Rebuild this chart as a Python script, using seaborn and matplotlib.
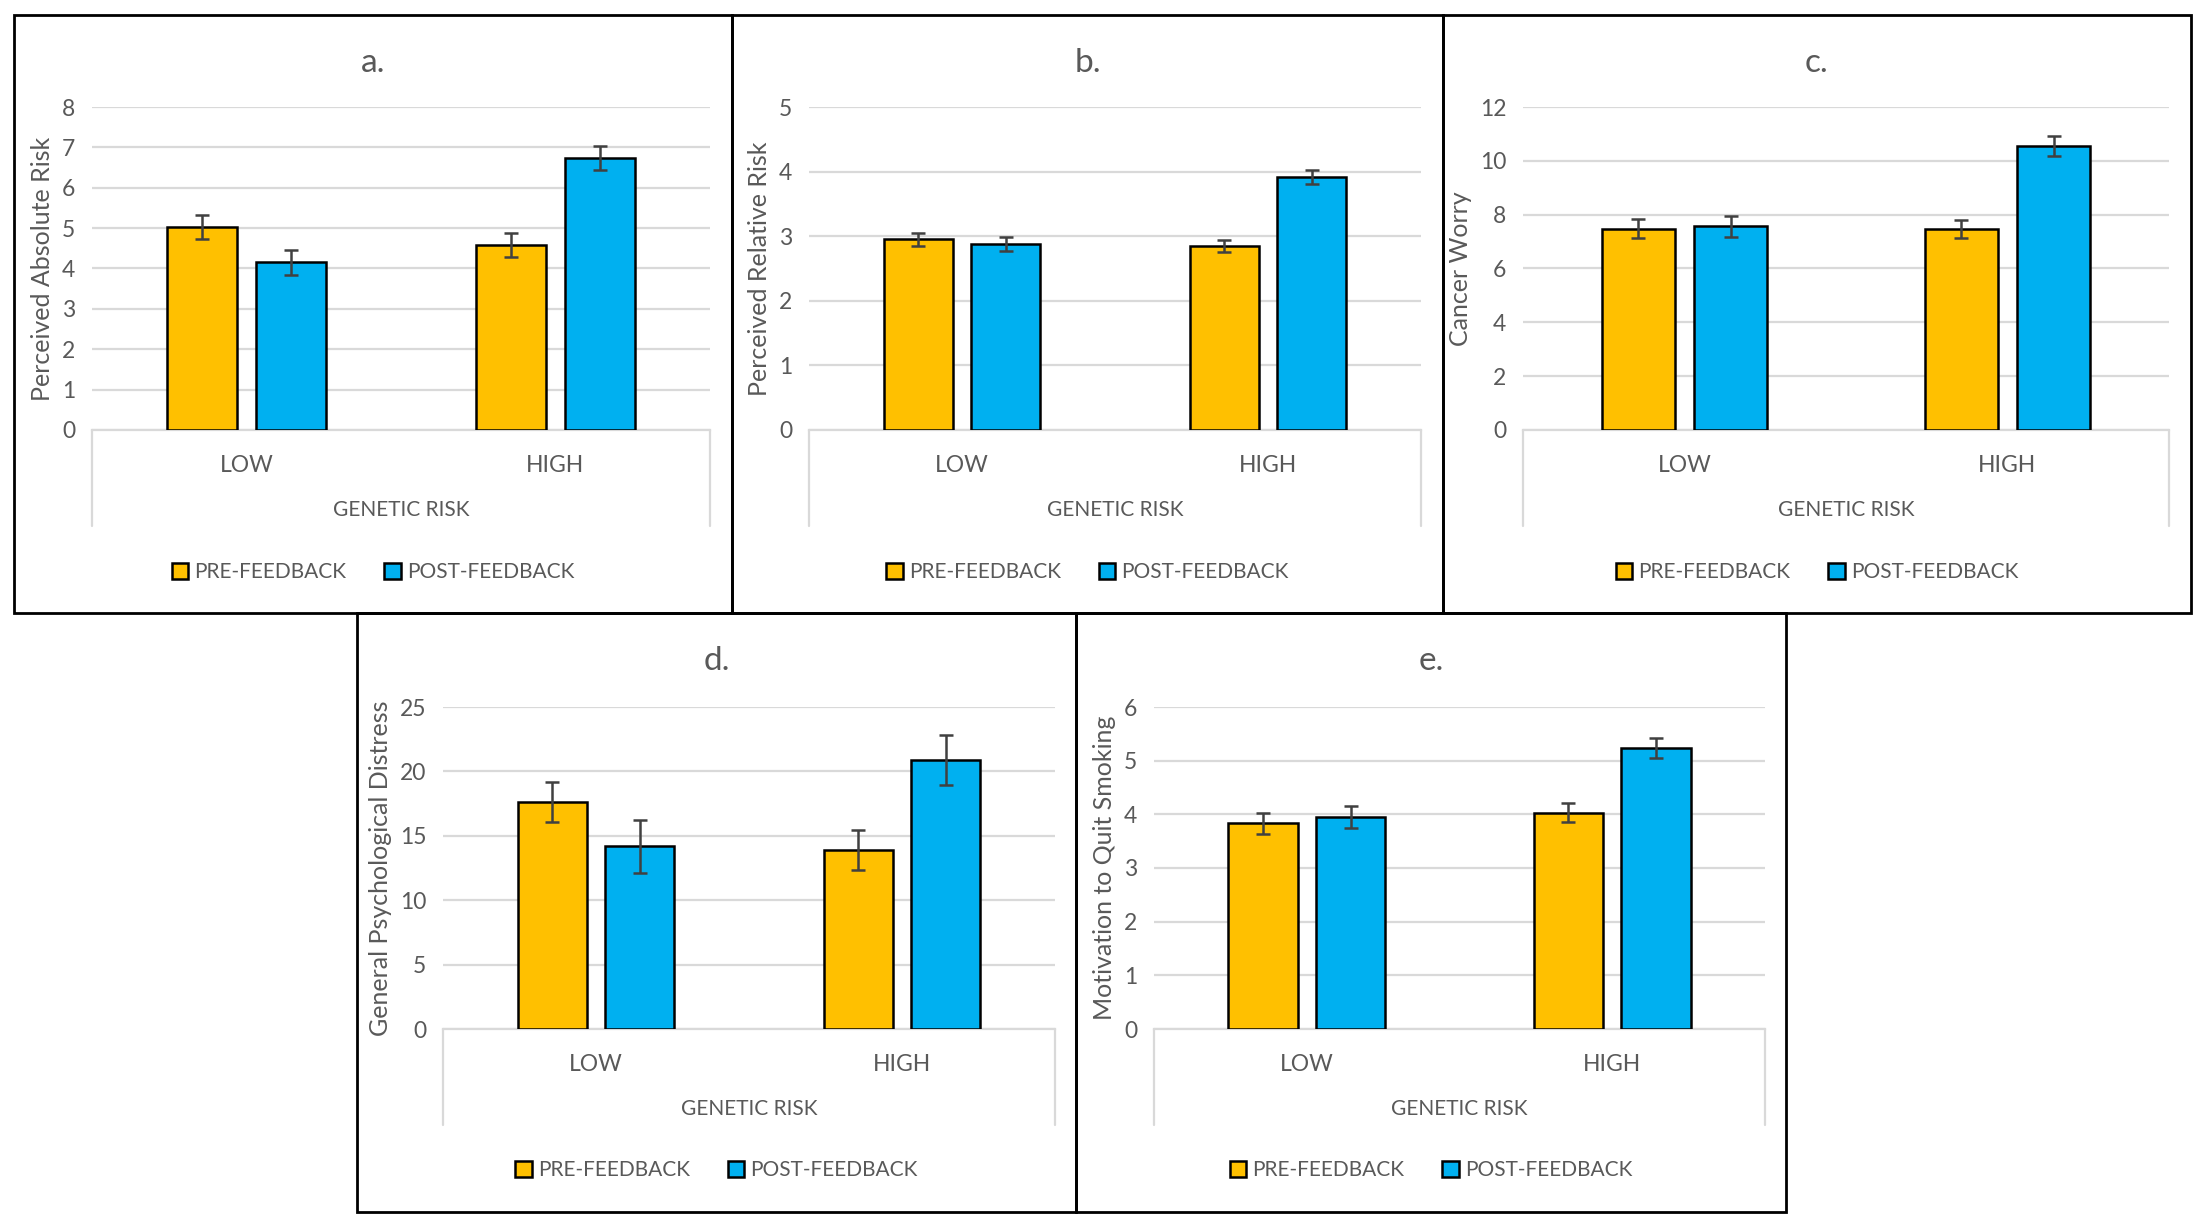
import numpy as np
import pandas as pd
import matplotlib.pyplot as plt
from matplotlib.patches import Patch, Rectangle
import seaborn as sns

# Data
risk_levels = ['LOW', 'HIGH']
phases = ['PRE-FEEDBACK', 'POST-FEEDBACK']
panel_titles = ['a.', 'b.', 'c.', 'd.', 'e.']
y_labels = ['Perceived Absolute Risk', 'Perceived Relative Risk', 'Cancer Worry',
            'General Psychological Distress', 'Motivation to Quit Smoking']
pre_means = [[5.02, 4.58], [2.95, 2.85], [7.48, 7.48], [17.6, 13.9], [3.83, 4.03]]
post_means = [[4.15, 6.73], [2.88, 3.92], [7.57, 10.55], [14.2, 20.9], [3.95, 5.24]]
pre_err = [[0.30, 0.29], [0.105, 0.095], [0.35, 0.33], [1.56, 1.56], [0.19, 0.18]]
post_err = [[0.31, 0.30], [0.105, 0.105], [0.39, 0.38], [2.05, 1.95], [0.21, 0.19]]
y_max = [8, 5, 12, 25, 6]
y_step = [1, 1, 2, 5, 1]

colors = ['#FFC000', '#00B0F0']
text_col = '#595959'
grid_col = '#D9D9D9'

W, H = 2206, 1231
sns.set_style('white')
plt.rcParams['font.family'] = ['Lato', 'DejaVu Sans']

fig = plt.figure(figsize=(W / 100, H / 100), dpi=100)

# panel frames in pixels: left, top, right, bottom
frames = [(14, 15, 732, 613), (732, 15, 1443, 613), (1443, 15, 2191, 613),
          (357, 613, 1076, 1212), (1076, 613, 1786, 1212)]
# plot areas in pixels: left, top, right, zero line
areas = [(92, 107, 710, 430), (809, 107, 1421, 430), (1523, 107, 2169, 430),
         (443, 707, 1055, 1029), (1154, 707, 1765, 1029)]

for i in range(5):
    fl, ft, fr, fb = frames[i]
    l, t, r, b = areas[i]
    ax = fig.add_axes([l / W, 1 - b / H, (r - l) / W, (b - t) / H])

    df = pd.DataFrame({
        'risk': risk_levels * 2,
        'phase': [phases[0]] * 2 + [phases[1]] * 2,
        'value': pre_means[i] + post_means[i],
    })
    sns.barplot(data=df, x='risk', y='value', hue='phase', order=risk_levels,
                hue_order=phases, palette=colors, saturation=1, width=0.573, gap=0.21,
                edgecolor='black', linewidth=1.8, errorbar=None, legend=False,
                ax=ax, zorder=3)

    # error bars on top of each bar
    for cont, errs in zip(ax.containers, [pre_err[i], post_err[i]]):
        xs = [p.get_x() + p.get_width() / 2 for p in cont]
        ax.errorbar(xs, cont.datavalues, yerr=errs, fmt='none', ecolor='#404040',
                    elinewidth=1.8, capsize=5, capthick=1.8, zorder=4)

    ax.set_xlim(-0.5, 1.5)
    ax.set_ylim(0, y_max[i])
    ax.set_yticks(np.arange(0, y_max[i] + 0.1, y_step[i]))
    ax.yaxis.grid(True, color=grid_col, lw=1.6)
    ax.set_axisbelow(True)
    for s in ['top', 'right', 'left']:
        ax.spines[s].set_visible(False)
    ax.spines['bottom'].set_color(grid_col)
    ax.spines['bottom'].set_linewidth(1.6)
    ax.tick_params(axis='both', length=0, labelsize=16.5, labelcolor=text_col)
    ax.tick_params(axis='x', pad=18)
    ax.tick_params(axis='y', pad=12)
    ax.set_xlabel('')
    ax.set_ylabel(y_labels[i], fontsize=18, color=text_col, labelpad=6)

    # multi-level category box below the axis
    hgt = b - t
    box_bottom = -(526 - 430) / hgt
    for xe in [0, 1]:
        ax.plot([xe, xe], [0, box_bottom], transform=ax.transAxes, color=grid_col,
                lw=1.6, clip_on=False)
    ax.text(0.5, -(510 - 430) / hgt, 'GENETIC RISK', transform=ax.transAxes,
            ha='center', va='center', fontsize=15, color=text_col)

    # panel title and legend
    cx = (fl + fr) / 2 / W
    fig.text(cx, 1 - (ft + 48) / H, panel_titles[i], ha='center', va='center',
             fontsize=24, color=text_col)
    handles = [Patch(facecolor=c, edgecolor='black', lw=1.8) for c in colors]
    ax.legend(handles, phases, loc='center', bbox_to_anchor=(cx, 1 - (ft + 557) / H),
              bbox_transform=fig.transFigure, ncol=2, frameon=False, fontsize=15,
              labelcolor=text_col, handlelength=0.8, handleheight=0.8,
              handletextpad=0.3, columnspacing=1.8)

    fig.add_artist(Rectangle((fl / W, 1 - fb / H), (fr - fl) / W, (fb - ft) / H,
                             transform=fig.transFigure, fill=False,
                             edgecolor='black', lw=2))

fig.savefig('out.png', dpi=100, facecolor='white')
